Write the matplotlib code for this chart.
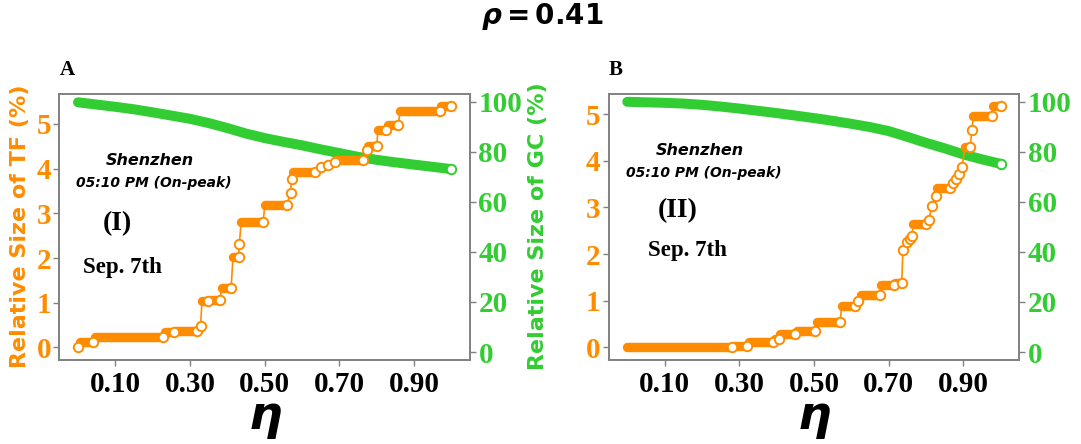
import numpy as np
import matplotlib
matplotlib.use("Agg")
import matplotlib.pyplot as plt
from matplotlib.collections import LineCollection

ORANGE = "#FF8C00"
GREEN = "#32CD32"
SPINE = "#808080"

# ---- panel A (I) ----
eta_tf_a = [0.0, 0.005, 0.041, 0.045, 0.228, 0.232, 0.256, 0.26, 0.318, 0.328,
            0.332, 0.347, 0.35, 0.38, 0.385, 0.41, 0.415, 0.43, 0.432, 0.437,
            0.496, 0.50, 0.559, 0.569, 0.572, 0.575, 0.635, 0.652, 0.67, 0.688,
            0.69, 0.764, 0.773, 0.777, 0.80, 0.803, 0.826, 0.83, 0.858, 0.862,
            0.969, 0.973, 1.0]
tf_a = [0.0, 0.13, 0.13, 0.225, 0.225, 0.34, 0.34, 0.375, 0.375, 0.47,
        1.03, 1.03, 1.07, 1.07, 1.33, 1.33, 2.02, 2.02, 2.32, 2.81,
        2.81, 3.19, 3.19, 3.46, 3.76, 3.93, 3.93, 4.03, 4.08, 4.16,
        4.2, 4.2, 4.42, 4.5, 4.5, 4.87, 4.87, 4.97, 4.97, 5.28,
        5.28, 5.41, 5.41]
eta_gc_a = [0.0, 0.05, 0.10, 0.15, 0.20, 0.25, 0.30, 0.35, 0.40, 0.45, 0.50,
            0.55, 0.60, 0.65, 0.70, 0.75, 0.80, 0.85, 0.90, 0.95, 1.0]
gc_a = [99.8, 98.9, 98.0, 97.0, 95.8, 94.5, 93.2, 91.5, 89.5, 87.3, 85.5,
        84.0, 82.6, 81.0, 79.5, 78.0, 76.8, 75.8, 74.9, 74.0, 73.1]

# ---- panel B (II) ----
eta_tf_b = [0.0, 0.28, 0.285, 0.32, 0.325, 0.39, 0.395, 0.405, 0.41, 0.45,
            0.455, 0.503, 0.507, 0.57, 0.574, 0.61, 0.618, 0.625, 0.677, 0.68,
            0.713, 0.716, 0.735, 0.738, 0.75, 0.756, 0.762, 0.766, 0.80, 0.807,
            0.816, 0.827, 0.83, 0.865, 0.872, 0.88, 0.888, 0.896, 0.905, 0.918,
            0.923, 0.927, 0.976, 0.98, 1.0]
tf_b = [0.0, 0.0, 0.03, 0.03, 0.12, 0.12, 0.19, 0.19, 0.29, 0.29,
        0.35, 0.35, 0.55, 0.55, 0.89, 0.89, 1.0, 1.12, 1.12, 1.33,
        1.33, 1.39, 1.39, 2.08, 2.26, 2.33, 2.38, 2.64, 2.64, 2.72,
        3.04, 3.25, 3.42, 3.42, 3.52, 3.6, 3.71, 3.87, 4.29, 4.29,
        4.66, 4.96, 4.96, 5.18, 5.18]
eta_gc_b = [0.0, 0.05, 0.10, 0.15, 0.20, 0.25, 0.30, 0.35, 0.40, 0.45, 0.50,
            0.55, 0.60, 0.65, 0.70, 0.75, 0.80, 0.85, 0.90, 0.95, 1.0]
gc_b = [100.0, 99.8, 99.6, 99.3, 98.8, 98.1, 97.3, 96.4, 95.5, 94.5, 93.5,
        92.4, 91.2, 89.9, 88.3, 86.0, 83.6, 81.4, 79.0, 77.0, 75.2]

xticks = [0.1, 0.3, 0.5, 0.7, 0.9]
tf_ticks = [0, 1, 2, 3, 4, 5]
gc_ticks = [0, 20, 40, 60, 80, 100]

serif_bold = dict(family="Liberation Serif", weight="bold")


def draw_tf(ax, eta, tf):
    eta = np.asarray(eta)
    tf = np.asarray(tf)
    ax.plot(eta, tf, "-", color=ORANGE, lw=1.2, zorder=2)
    # plateaus look like a solid band of overlapping markers
    flat = np.flatnonzero(np.diff(tf) == 0)
    segs = [[(eta[i], tf[i]), (eta[i + 1], tf[i + 1])] for i in flat]
    ax.add_collection(LineCollection(segs, colors=ORANGE, linewidths=6.8,
                                     capstyle="round", zorder=3))
    ends = np.append(np.diff(tf) != 0, True)
    ax.plot(eta[ends], tf[ends], "o", ls="none", ms=6.8, mfc="white",
            mec=ORANGE, mew=1.4, zorder=4)


def draw_gc(ax, eta, gc):
    ax.plot(eta, gc, "-", color=GREEN, lw=7.2, solid_capstyle="round",
            solid_joinstyle="round", zorder=3)
    ax.plot(eta[-1], gc[-1], "o", ms=6.8, mfc="white", mec=GREEN, mew=1.4,
            zorder=4)


def panel(rect, eta_tf, tf, eta_gc, gc, letter, roman, txt_pos, labels):
    ax = fig.add_axes(rect)
    ax2 = ax.twinx()
    ax.set_zorder(ax2.get_zorder() + 1)
    ax.patch.set_visible(False)

    draw_gc(ax2, eta_gc, gc)
    draw_tf(ax, eta_tf, tf)

    ax.set_xlim(-0.05, 1.05)
    ax2.set_ylim(-3, 103.3)
    ax.set_xticks(xticks)
    ax.set_xticklabels(["%.2f" % t for t in xticks], fontsize=21, **serif_bold)
    ax.set_yticks(tf_ticks)
    ax.set_yticklabels([str(t) for t in tf_ticks], fontsize=21, color=ORANGE,
                       **serif_bold)
    ax2.set_yticks(gc_ticks)
    ax2.set_yticklabels([str(t) for t in gc_ticks], fontsize=21, color=GREEN,
                        **serif_bold)

    for a in (ax, ax2):
        for s in a.spines.values():
            s.set_color(SPINE)
            s.set_linewidth(1.2)
        a.tick_params(color=SPINE, length=4, width=1, pad=2)
    ax.tick_params(axis="x", pad=4)

    if labels:
        ax.set_ylabel("Relative Size of TF (%)", fontsize=16, weight="bold",
                      color=ORANGE)
        ax.yaxis.set_label_coords(-0.071, 0.5)
        ax2.set_ylabel("Relative Size of GC (%)", fontsize=16, weight="bold",
                       color=GREEN, rotation=90)
        ax2.yaxis.set_label_coords(1.140, 0.5)

    ax.text(0.5, -0.22, r"$\boldsymbol{\eta}$", transform=ax.transAxes,
            fontsize=34, ha="center", va="center")
    ax.text(0.0, 1.071, letter, transform=ax.transAxes, fontsize=15,
            ha="left", va="baseline", **serif_bold)

    (sx, sy), (tx, ty), (rx, ry), (dx, dy) = txt_pos
    ax.text(sx, sy, "Shenzhen", transform=ax.transAxes, fontsize=11.5,
            weight="bold", style="italic", ha="center", va="baseline")
    ax.text(tx, ty, "05:10 PM (On-peak)", transform=ax.transAxes, fontsize=10,
            weight="bold", style="italic", ha="center", va="baseline")
    ax.text(rx, ry, roman, transform=ax.transAxes, fontsize=20, ha="center",
            va="baseline", **serif_bold)
    ax.text(dx, dy, "Sep. 7th", transform=ax.transAxes, fontsize=16.5,
            ha="left", va="baseline", **serif_bold)
    return ax


fig = plt.figure(figsize=(10.81, 4.44), dpi=100)

panel([0.0549, 0.1903, 0.380, 0.599], eta_tf_a, tf_a,
      np.array(eta_gc_a), np.array(gc_a), "A", "(I)",
      [(0.221, 0.731), (0.229, 0.650), (0.142, 0.487), (0.057, 0.326)], True)
panel([0.563, 0.1903, 0.380, 0.599], eta_tf_b, tf_b,
      np.array(eta_gc_b), np.array(gc_b), "B", "(II)",
      [(0.222, 0.769), (0.232, 0.685), (0.168, 0.536), (0.097, 0.389)], False)

fig.text(0.502, 1 - 16 / 444, r"$\boldsymbol{\rho = 0.41}$", fontsize=20,
         ha="center", va="center")

fig.savefig("out.png", dpi=100)
